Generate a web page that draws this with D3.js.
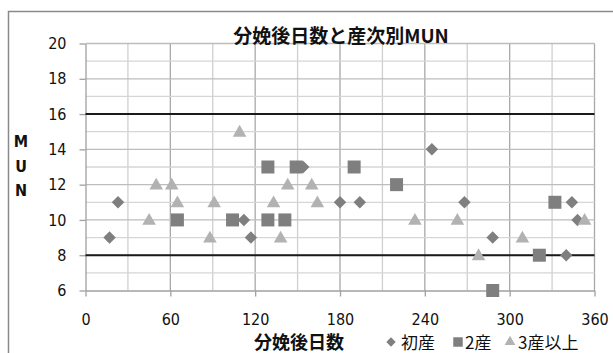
<!DOCTYPE html>
<html>
<head>
<meta charset="utf-8">
<script src="https://cdn.jsdelivr.net/npm/d3@7"></script>
<style>
  html, body { margin: 0; padding: 0; background: #fff; }
  svg { display: block; }
</style>
</head>
<body>
<svg id="chart" width="613" height="353"></svg>
<script>
// MUN by days after calving, split by parity
const xTicks = [0, 60, 120, 180, 240, 300, 360];
const yTicks = [6, 8, 10, 12, 14, 16, 18, 20];
const refLines = [8, 16];

const seriesNames = ["初産", "2産", "3産以上"];

const firstDays = [17, 23, 112, 117, 154, 180, 194, 245, 268, 288, 340, 344, 348];
const firstMUN  = [9, 11, 10, 9, 13, 11, 11, 14, 11, 9, 8, 11, 10];

const secondDays = [65, 104, 129, 149, 190, 129, 141, 220, 288, 321, 332];
const secondMUN  = [10, 10, 13, 13, 13, 10, 10, 12, 6, 8, 11];

const thirdDays = [45, 50, 61, 65, 91, 88, 109, 143, 160, 133, 164, 138, 233, 263, 278, 309, 353];
const thirdMUN  = [10, 12, 12, 11, 11, 9, 15, 12, 12, 11, 11, 9, 10, 10, 8, 9, 10];

const svg = d3.select("#chart");
const font = "'DejaVu Sans Condensed', 'Liberation Sans Narrow', sans-serif";
const cjk = "'Noto Sans CJK JP', 'Noto Sans CJK SC', sans-serif";

const x = d3.scaleLinear().domain([0, 360]).range([85.5, 594.5]);
const y = d3.scaleLinear().domain([6, 20]).range([290.5, 43.5]);

// outer frame
svg.append("path")
  .attr("d", "M8.5,353 L8.5,11.5 L613,11.5")
  .attr("fill", "none").attr("stroke", "#8a8a8a").attr("stroke-width", 1.5);

const grid = svg.append("g");
// vertical grid every 30 days
d3.range(30, 361, 30).forEach(d => {
  grid.append("line")
    .attr("x1", x(d)).attr("x2", x(d)).attr("y1", y(20)).attr("y2", y(6))
    .attr("stroke", d % 60 === 0 ? "#a8a8a8" : "#cfcfcf").attr("stroke-width", 1.3);
});
// horizontal grid every 1 unit
d3.range(7, 21, 1).forEach(v => {
  grid.append("line")
    .attr("x1", x(0)).attr("x2", x(360)).attr("y1", y(v)).attr("y2", y(v))
    .attr("stroke", v % 2 === 0 ? "#bdbdbd" : "#d6d6d6").attr("stroke-width", 1.3);
});

// axes
const xAxis = d3.axisBottom(x).tickValues(xTicks).tickSize(6).tickSizeOuter(0).tickPadding(17);
const yAxis = d3.axisLeft(y).tickValues(yTicks).tickSize(6).tickSizeOuter(0).tickPadding(13);

const gx = svg.append("g").attr("transform", `translate(0,${y(6)})`).call(xAxis);
const gy = svg.append("g").attr("transform", `translate(${x(0)},0)`).call(yAxis);
[gx, gy].forEach(g => {
  g.selectAll("path.domain").attr("stroke", "#a0a0a0").attr("stroke-width", 1.3);
  g.selectAll(".tick line").attr("stroke", "#a0a0a0").attr("stroke-width", 1.3);
  g.selectAll(".tick text").attr("fill", "#111").style("font-family", font).style("font-size", "16px");
});

// reference lines at 8 and 16
svg.append("g").selectAll("line").data(refLines).join("line")
  .attr("x1", x(0)).attr("x2", x(360))
  .attr("y1", d => y(d)).attr("y2", d => y(d))
  .attr("stroke", "#1a1a1a").attr("stroke-width", 2);

// markers
const diamond = d3.symbol().type(d3.symbolSquare).size(78);
const square = d3.symbol().type(d3.symbolSquare).size(169);
const triangle = d3.symbol().type(d3.symbolTriangle).size(80);

const pts = (xs, ys) => xs.map((d, i) => ({ d, v: ys[i] }));

svg.append("g").selectAll("path").data(pts(firstDays, firstMUN)).join("path")
  .attr("d", diamond)
  .attr("transform", p => `translate(${x(p.d)},${y(p.v)}) rotate(45)`)
  .attr("fill", "#7f7f7f");

svg.append("g").selectAll("path").data(pts(secondDays, secondMUN)).join("path")
  .attr("d", square)
  .attr("transform", p => `translate(${x(p.d)},${y(p.v)})`)
  .attr("fill", "#7f7f7f");

svg.append("g").selectAll("path").data(pts(thirdDays, thirdMUN)).join("path")
  .attr("d", triangle)
  .attr("transform", p => `translate(${x(p.d)},${y(p.v) + 1})`)
  .attr("fill", "#b2b2b2");

// title
svg.append("text")
  .attr("x", 341).attr("y", 43)
  .attr("text-anchor", "middle")
  .style("font-family", cjk).style("font-size", "19px").style("font-weight", "bold")
  .attr("fill", "#111")
  .text("分娩後日数と産次別MUN");

// y axis title, stacked letters
["M", "U", "N"].forEach((c, i) => {
  svg.append("text")
    .attr("x", 21).attr("y", [147, 172, 196][i])
    .attr("text-anchor", "middle")
    .style("font-family", font).style("font-size", "16px").style("font-weight", "bold")
    .attr("fill", "#111")
    .text(c);
});

// x axis title
svg.append("text")
  .attr("x", 299).attr("y", 349)
  .attr("text-anchor", "middle")
  .style("font-family", cjk).style("font-size", "18px").style("font-weight", "bold")
  .attr("fill", "#111")
  .text("分娩後日数");

// legend
const legend = svg.append("g");
const legendItems = [
  { name: seriesNames[0], mx: 391, tx: 401, sym: d3.symbol().type(d3.symbolSquare).size(44), rot: 45, fill: "#7f7f7f" },
  { name: seriesNames[1], mx: 458, tx: 465, sym: d3.symbol().type(d3.symbolSquare).size(90), rot: 0, fill: "#7f7f7f" },
  { name: seriesNames[2], mx: 510, tx: 518, sym: d3.symbol().type(d3.symbolTriangle).size(50), rot: 0, fill: "#b2b2b2" }
];
legendItems.forEach(it => {
  legend.append("path")
    .attr("d", it.sym)
    .attr("transform", `translate(${it.mx},342) rotate(${it.rot})`)
    .attr("fill", it.fill);
  legend.append("text")
    .attr("x", it.tx).attr("y", 349)
    .style("font-family", cjk).style("font-size", "17px")
    .attr("fill", "#111")
    .text(it.name);
});
</script>
</body>
</html>
